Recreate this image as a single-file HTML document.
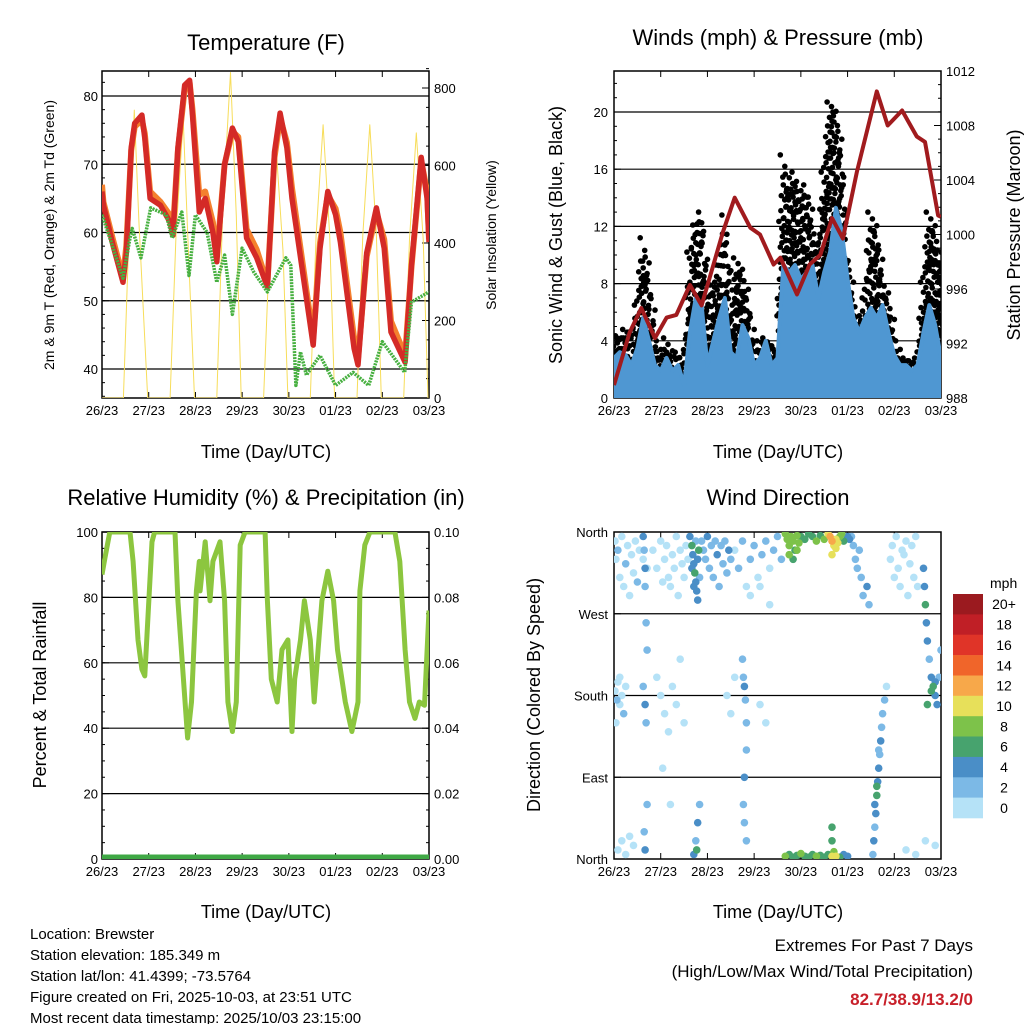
<!DOCTYPE html>
<html><head><meta charset="utf-8"><style>
html,body{margin:0;padding:0;background:#fff;}
svg{display:block;font-family:"Liberation Sans",sans-serif;}
</style></head><body>
<svg id="fig" width="1024" height="1024" viewBox="0 0 1024 1024">
<defs>
<clipPath id="c1"><rect x="102" y="71" width="327" height="327"/></clipPath>
<clipPath id="c2"><rect x="614" y="71" width="327" height="327"/></clipPath>
<clipPath id="c3"><rect x="102" y="532" width="327" height="327"/></clipPath>
<clipPath id="c4"><rect x="614" y="532" width="327" height="327"/></clipPath>
</defs>
<g font-size="22">
<text x="266" y="50" text-anchor="middle">Temperature (F)</text>
<text x="778" y="45" text-anchor="middle">Winds (mph) &amp; Pressure (mb)</text>
<text x="266" y="505" text-anchor="middle">Relative Humidity (%) &amp; Precipitation (in)</text>
<text x="778" y="505" text-anchor="middle">Wind Direction</text>
</g>
<g font-size="18">
<text x="266" y="458" text-anchor="middle">Time (Day/UTC)</text>
<text x="778" y="458" text-anchor="middle">Time (Day/UTC)</text>
<text x="266" y="918" text-anchor="middle">Time (Day/UTC)</text>
<text x="778" y="918" text-anchor="middle">Time (Day/UTC)</text>
<text transform="translate(562,235) rotate(-90)" text-anchor="middle">Sonic Wind &amp; Gust (Blue, Black)</text>
<text transform="translate(1020,235) rotate(-90)" text-anchor="middle">Station Pressure (Maroon)</text>
<text transform="translate(46,695) rotate(-90)" text-anchor="middle">Percent &amp; Total Rainfall</text>
<text transform="translate(540,695) rotate(-90)" text-anchor="middle">Direction (Colored By Speed)</text>
</g>
<g font-size="14">
<text transform="translate(54,235) rotate(-90)" text-anchor="middle">2m &amp; 9m T (Red, Orange) &amp; 2m Td (Green)</text>
<text transform="translate(496,235) rotate(-90)" text-anchor="middle">Solar Insolation (Yellow)</text>
</g>
<g font-size="15">
<text x="30" y="939">Location: Brewster</text>
<text x="30" y="960">Station elevation: 185.349 m</text>
<text x="30" y="981">Station lat/lon: 41.4399; -73.5764</text>
<text x="30" y="1002">Figure created on Fri, 2025-10-03, at 23:51 UTC</text>
<text x="30" y="1023">Most recent data timestamp: 2025/10/03 23:15:00</text>
</g>
<g font-size="17" text-anchor="end">
<text x="973" y="951">Extremes For Past 7 Days</text>
<text x="973" y="977">(High/Low/Max Wind/Total Precipitation)</text>
<text x="973" y="1005" fill="#c8202a" font-weight="bold">82.7/38.9/13.2/0</text>
</g>
<g id="layer"></g>
</svg>
<script>
// ---- Temperature data (hours since start, °F) ----
const tHours=[0,0.7,5.6,10.8,12.5,15,16.8,20.5,22,24.7,30,35,36.5,39,42.5,45,46.5,50,53,57,59,63,67,70,74.3,79.5,85,88.6,91.5,95,97.6,108.5,112,116,120,122.5,129.5,131.5,136,141,145,148.5,155.7,159,164,167,168];
const tRed=[66,64,58.2,52.7,57,72.4,76,77.2,73.8,65,64,61.5,59.6,72.4,81.6,82.3,77.2,63,65,60,55.7,70,75.3,73.3,59.2,56.3,52,71.8,77.5,72.4,65,43.5,57.7,66,62.6,58.6,43,40.6,57,63.6,57.7,45.4,41,55.2,71,65,58.6];
const tOrange=[67,64.5,59,53.5,58,72,75.5,76.5,74.5,66,64.5,62.5,60.5,72,81,82,78,65.5,66,61.5,56.5,70,74.8,74,60.5,57.5,52.5,71,76.8,73.2,66.5,44.5,58.5,65.5,63.5,60,44.5,41.5,56.5,63,59,47,42,55,70.5,66,59];
const tdHours=[0,4,10.8,14.4,15.5,20,25,33,36,41,44.7,48,54,59,63,67,72,78,85,94.5,97,99.6,102,105,112,120,129,137,144,155.5,159,168];
const tdGreen=[62.6,59.2,53.3,59.2,60.6,56.3,63.6,62.6,59.2,63,53.7,62.6,60,52.7,56.7,48,57.7,54.2,51.3,56.3,55.2,37.6,42.5,39.1,42,37.6,39.5,37.6,44,39.5,49.8,51.3];
const solarHours=[0,11,14,16.6,19,23.5,35,38,41.7,44,47.5,59,62,66,69,71.5,83,86,89.7,93,95.5,107,110,113.6,117,119.5,131,134,137.6,141,143.5,155,158,161.5,165,167.5];
const solarVals=[0,0,450,743,450,0,0,420,720,430,0,0,480,840,470,0,0,380,627,380,0,0,420,705,420,0,0,420,705,420,0,0,410,684,410,0];
// ---- Wind / pressure data ----
const pHours=[0,8,14,21,27,32,39,45,56,62,70,75,82,85.5,94,100.5,106,112,117.6,124.8,135,140.6,148,155.5,159.8,166.5,168];
const pVals=[988.95,992.8,994.6,992.4,993.9,994.1,996.3,994.8,1000.2,1002.7,1000.5,1000,997.8,998.3,995.6,997.8,998.5,1001.2,999.7,1004.6,1010.5,1008,1009.1,1007.2,1006.8,1001.4,1001.3];
const windStep=3;
const windSpeed=[2.8,3.2,3,2.3,3.5,5.6,4,2.3,1.9,2.8,1.9,2.3,0.9,4.6,7,6.5,2.3,4,5.6,7,3.2,2.8,5.1,4.2,2.3,2.8,4,2.3,2.8,9.3,8.8,9.3,8.3,8.8,9.3,7,8.8,10.2,13.3,11.7,8.3,5.6,4.6,5.6,6.3,5.6,6.5,4.6,3,2.3,2.3,1.9,2.3,4.6,6.5,5.1,2.8];
const windGust=[4.6,4.2,4.8,4.6,6.5,11.2,8.3,4.6,2.8,4.2,3,3.2,2.3,10.2,12.1,13,7,7.9,9.3,12.8,5.6,9.8,8.8,7,3.2,4,4.2,3.7,3.2,17,14.4,15.8,13.8,14.9,12.1,10.2,15.8,20.7,20,16.8,9.8,7,5.1,7,13,11.7,8.3,7,4.6,2.8,2.8,2.6,2.8,8.1,13,11.7,9.3];
// ---- RH data ----
const rhHours=[0,1.5,4,14.4,16,18.5,20.5,22,25.7,27,37.5,39,44,46,48.5,50,50.4,53,55.5,57,60.6,63,64.7,67,69,71,73.5,83.8,85,87,90,92.5,95.5,97.6,99,102,104,107,109,111,113,116,119,121,125,128.4,131.5,132.5,135,137.7,150.5,153,155.7,158,160.8,163,165.7,168];
const rhVals=[87,92,100,100,91,67,58,56,97,100,100,79,37,48,82,91,82,97,79,91,97,79,48,39,48,96,100,100,79,55,48,64,67,39,55,67,79,67,48,64,79,88,79,64,48,39,48,82,96,100,100,91,64,48,43,48,47,76];
const precipHours=[0,168];
const precipVals=[0,0];
// ---- Wind direction scatter ----
const wdHour=[0.5,1,2,3,4,5,6,7,8,9,10,11,12,13,15,17, 0.5,1.5,2,3,4,5,6,1,3, 15,15.5,16,16,16.5,17,15,16,16.5,17,15.5,16, 20,22,24,25,26,27,28,29,30,31,32,33,34,35,36,37,38, 22,24,26,28,30,32,34,36,25,29, 2,4,6,8,10, 39,40,40.5,41,41.5,42,42.5,43,43.5,40,41,42,43,44, 41,42,43,44,42.5, 45,46,47,48,49,50,51,52,53,54,55,56,57,58,59,60, 66,66.5,67,67.5,68,68,67,66.5,67,68, 62,64,66,68,70,72,74,76,78,80,82,84,86,70,75,80, 58,60,62,75,78, 88,89,90,91,92,93,94,95,96,98,100,102,104,106,108,110,111,112,113,114,115,116,117,118,120,121,90,92,94,112,114, 88,90,92,94,96,98,100,102,104,106,108,110,112,113,114,116,118,120,112,112, 122,123,124,125,126,127,128,130,131, 133,133.5,134,134.5,135,135.5,136,136.5,137,137.5,138,139,140,134,135,136, 142,143,144,145,146,147,148,149,150,151,152,153,154,155,156, 159,159.5,160,160.5,161,162,163,164,165,166,167,168,161,163,165, 150,155,160,165];
const wdDir=[350,330,340,310,355,300,325,345,290,335,315,350,305,340,330,320, 185,175,195,170,180,160,190,150,200, 355,340,320,300,260,230,190,170,150,60,30,10, 340,320,350,305,330,345,310,300,335,320,355,290,340,325,310,345,330, 200,180,160,140,190,170,220,150,100,60, 10,20,5,25,15, 355,345,335,325,315,305,295,285,340,320,300,350,330,310, 5,20,40,60,10, 350,340,330,355,320,345,310,350,335,300,345,325,350,315,340,330, 220,200,190,175,150,120,90,60,40,20, 340,320,350,300,330,345,310,335,350,320,340,355,330,290,300,280, 180,160,200,170,150, 358,352,345,355,350,340,356,348,355,352,358,355,350,356,352,358,355,350,345,352,348,355,358,350,355,352,335,330,340,335,342, 3,5,2,4,6,3,2,5,3,4,2,5,3,8,3,2,5,3,20,35, 355,345,330,320,340,310,290,300,280, 5,20,35,50,70,85,100,115,130,145,160,175,190,60,80,120, 330,345,310,355,320,300,340,335,350,290,325,345,310,355,300, 320,300,280,260,240,220,200,190,180,170,200,230,170,185,195, 10,5,20,15];
const wdSpeed=[1,1,2,1,1,1,2,1,1,0,1,1,2,1,1,1, 1,2,1,1,1,2,1,1,1, 4,3,4,3,3,2,3,4,3,3,3,4, 1,0,1,1,0,1,1,0,1,1,0,1,1,0,1,1,1, 1,1,0,1,1,0,1,1,1,1, 1,0,1,1,0, 4,6,5,4,6,4,5,4,6,5,4,3,4,3, 4,3,4,3,6, 3,2,3,4,2,3,2,3,4,2,3,3,2,3,4,2, 2,3,4,3,2,3,4,3,3,2, 1,2,3,1,2,2,1,3,2,1,3,2,2,1,1,1, 1,1,0,1,0, 8,9,8,9,8,7,9,8,6,7,6,7,8,7,8,11,12,13,10,11,10,9,8,6,4,5,8,7,8,10,10, 8,7,6,7,8,6,7,6,8,6,7,6,10,8,10,6,5,4,7,6, 2,3,2,2,3,2,2,4,3, 3,4,3,4,6,4,4,3,4,3,2,2,1,4,6,3, 0,1,0,1,0,0,1,0,1,0,0,1,0,1,0, 4,4,6,4,4,3,4,6,4,4,3,2,6,6,4, 0,1,0,1];
const cbLabels=["20+","18","16","14","12","10","8","6","4","2","0"];
const cbColors=["#9b1a1f","#c01f26","#e03428","#f0652a","#f7a84a","#e7e05a","#7dc24a","#47a36e","#4a8ec7","#7cb9e6","#b5e2f7"];
const dayLabels=["26/23","27/23","28/23","29/23","30/23","01/23","02/23","03/23"];

const NS="http://www.w3.org/2000/svg";
const layer=document.getElementById('layer');
function mk(tag,attrs,parent){const e=document.createElementNS(NS,tag);for(const k in attrs)e.setAttribute(k,attrs[k]);(parent||layer).appendChild(e);return e;}
function xs(x0){return h=>x0+h/168*327;}
function lin(v0,v1,p0,p1){return v=>p0+(v-v0)/(v1-v0)*(p1-p0);}
function pts(hs,vs,X,Y){return hs.map((h,i)=>X(hs[i]).toFixed(1)+','+Y(vs[i]).toFixed(1)).join(' ');}
function colorFor(s){let i=Math.min(10,Math.floor(s/2));return cbColors[10-i];}

function frame(x0,y0,name){
  const g=mk('g',{});
  
  
  for(let i=0;i<8;i++){
    const x=x0+i*327/7;
    mk('line',{x1:x,y1:y0+327,x2:x,y2:y0+327-6,stroke:'#000','stroke-width':1},g);
    mk('line',{x1:x,y1:y0,x2:x,y2:y0+6,stroke:'#000','stroke-width':1},g);
    const t=mk('text',{x:x,y:y0+344,'font-size':13,'text-anchor':'middle'},g);
    t.textContent=dayLabels[i];
    
    
  }
  return g;
}
function hgrid(g,x0,y){mk('line',{x1:x0,y1:y,x2:x0+327,y2:y,stroke:'#000','stroke-width':1.2},g);}
function ytick(g,x,y,dir,len){mk('line',{x1:x,y1:y,x2:x+dir*len,y2:y,stroke:'#000','stroke-width':1},g);}
function ylabel(g,x,y,txt,anchor,name){const t=mk('text',{x:x,y:y+5,'font-size':13,'text-anchor':anchor},g);t.textContent=txt;}
function border(g,x0,y0){mk('rect',{x:x0,y:y0,width:327,height:327,fill:'none',stroke:'#000','stroke-width':1.5},g);}

// ===== Panel 1: Temperature =====
(function(){
  const X=xs(102), Y=lin(40,80,369,96), S=lin(0,800,398,88);
  const g=frame(102,71,'temperature');
  [40,50,60,70,80].forEach(v=>{hgrid(g,102,Y(v));ytick(g,102,Y(v),1,7);ylabel(g,98,Y(v),String(v),'end','temp-y-tick');});
  for(let v=36;v<=82;v+=2){ytick(g,102,Y(v),1,3);}
  [0,200,400,600,800].forEach(v=>{ytick(g,429,S(v),-1,7);ylabel(g,434,S(v),String(v),'start','solar-y-tick');});
  for(let v=0;v<=850;v+=50){ytick(g,429,S(v),-1,3);}
  const d=mk('g',{'clip-path':'url(#c1)'});
  
  
  const sol=mk('polyline',{points:pts(solarHours,solarVals,X,S),fill:'none',stroke:'#f7dd5a','stroke-width':1,'stroke-linejoin':'round'},d);
  
  
  const o=mk('polyline',{points:pts(tHours,tOrange,X,Y),fill:'none',stroke:'#f4802e','stroke-width':6,'stroke-linejoin':'round'},d);
  
  
  const r=mk('polyline',{points:pts(tHours,tRed,X,Y),fill:'none',stroke:'#d42a27','stroke-width':5.5,'stroke-linejoin':'round'},d);
  
  
  const gr=mk('polyline',{points:pts(tdHours,tdGreen,X,Y),fill:'none',stroke:'#47b040','stroke-width':3.5,'stroke-dasharray':'2 1','stroke-linejoin':'round'},d);
  
  
  border(g,102,71);
})();

// ===== Panel 2: Winds & Pressure =====
(function(){
  const X=xs(614), Y=lin(0,20,398,112), P=lin(988,1012,398,71);
  const g=frame(614,71,'wind');
  [4,8,12,16,20].forEach(v=>hgrid(g,614,Y(v)));
  [0,4,8,12,16,20].forEach(v=>{ytick(g,614,Y(v),1,7);ylabel(g,608,Y(v),String(v),'end','wind-y-tick');});
  for(let v=0;v<=22;v++){ytick(g,614,Y(v),1,3);}
  [988,992,996,1000,1004,1008,1012].forEach(v=>{ytick(g,941,P(v),-1,7);ylabel(g,946,P(v),String(v),'start','pressure-y-tick');});
  for(let v=988;v<=1012;v+=1){ytick(g,941,P(v),-1,3);}
  const d=mk('g',{'clip-path':'url(#c2)'});
  
  
  const hs=windSpeed.map((v,i)=>i*windStep);
  const gd=mk('g',{fill:'#000'},d);
  
  
  for(let i=0;i<hs.length;i++){
    for(let k=0;k<4;k++){
      const f=k/4, j=Math.min(i+1,hs.length-1);
      const h=hs[i]+f*windStep*(j>i?1:0);
      const lo=windSpeed[i]+(windSpeed[j]-windSpeed[i])*f;
      const hi=windGust[i]+(windGust[j]-windGust[i])*f;
      let n=0;
      for(let v=hi;v>=lo*0.7;v-=0.9){
        const dx=((n*5+k*3)%7)-3;
        mk('circle',{cx:(X(h)+dx).toFixed(1),cy:Y(v-((n*3+k)%4)*0.15).toFixed(1),r:2.8},gd);
        n++;
      }
    }
  }
  const area=hs.map(h=>X(h).toFixed(1)+','+Y(0).toFixed(1)).reverse().join(' ');
  const b=mk('polygon',{points:pts(hs,windSpeed,X,Y)+' '+area,fill:'#4f97d2',stroke:'#4f97d2','stroke-width':4,'stroke-linejoin':'round'},d);
  
  
  const p=mk('polyline',{points:pts(pHours,pVals,X,P),fill:'none',stroke:'#a11b1e','stroke-width':4,'stroke-linejoin':'round'},d);
  
  
  border(g,614,71);
})();

// ===== Panel 3: RH & Precip =====
(function(){
  const X=xs(102), Y=lin(0,100,859,532), R=lin(0,0.1,859,532);
  const g=frame(102,532,'humidity');
  [20,40,60,80,100].forEach(v=>hgrid(g,102,Y(v)));
  [0,20,40,60,80,100].forEach(v=>{ytick(g,102,Y(v),1,7);ylabel(g,98,Y(v),String(v),'end','rh-y-tick');});
  for(let v=0;v<=100;v+=5){ytick(g,102,Y(v),1,3);}
  [0,0.02,0.04,0.06,0.08,0.1].forEach(v=>{ytick(g,429,R(v),-1,7);ylabel(g,434,R(v),v.toFixed(2),'start','precip-y-tick');});
  for(let v=0;v<=0.1001;v+=0.005){ytick(g,429,R(v),-1,3);}
  const d=mk('g',{'clip-path':'url(#c3)'});
  
  
  const l=mk('polyline',{points:pts(rhHours,rhVals,X,Y),fill:'none',stroke:'#8cc63f','stroke-width':5,'stroke-linejoin':'round'},d);
  
  
  const pr=mk('polyline',{points:pts(precipHours,precipVals,X,R),fill:'none',stroke:'#3fa845','stroke-width':9},d);
  
  
  border(g,102,532);
})();

// ===== Panel 4: Wind direction =====
(function(){
  const X=xs(614), Y=lin(0,360,859,532);
  const g=frame(614,532,'direction');
  [90,180,270].forEach(v=>hgrid(g,614,Y(v)));
  const names=["North","East","South","West","North"];
  [0,90,180,270,360].forEach((v,i)=>{ytick(g,614,Y(v),1,7);ylabel(g,608,Y(v),names[i],'end','dir-y-tick');});
  const d=mk('g',{'clip-path':'url(#c4)'});
  
  
  const order=wdSpeed.map((s,i)=>i).sort((a,b)=>wdSpeed[a]-wdSpeed[b]);
  order.forEach(i=>{
    const c=mk('circle',{cx:X(wdHour[i]).toFixed(1),cy:Y(wdDir[i]).toFixed(1),r:3.8,fill:colorFor(wdSpeed[i])},d);
    
    
  });
  border(g,614,532);
  const cb=mk('g',{});
  
  
  const t=mk('text',{x:990,y:588,'font-size':14},cb);
  t.textContent='mph';
  const bh=224/cbColors.length;
  cbColors.forEach((c,i)=>{
    const r=mk('rect',{x:953,y:(594+i*bh).toFixed(1),width:30,height:(bh+0.3).toFixed(1),fill:c},cb);
    
    
    const l=mk('text',{x:1004,y:(594+i*bh+bh/2+5).toFixed(1),'font-size':14,'text-anchor':'middle'},cb);
    l.textContent=cbLabels[i];
    
    
  });
})();
</script>
</body></html>
